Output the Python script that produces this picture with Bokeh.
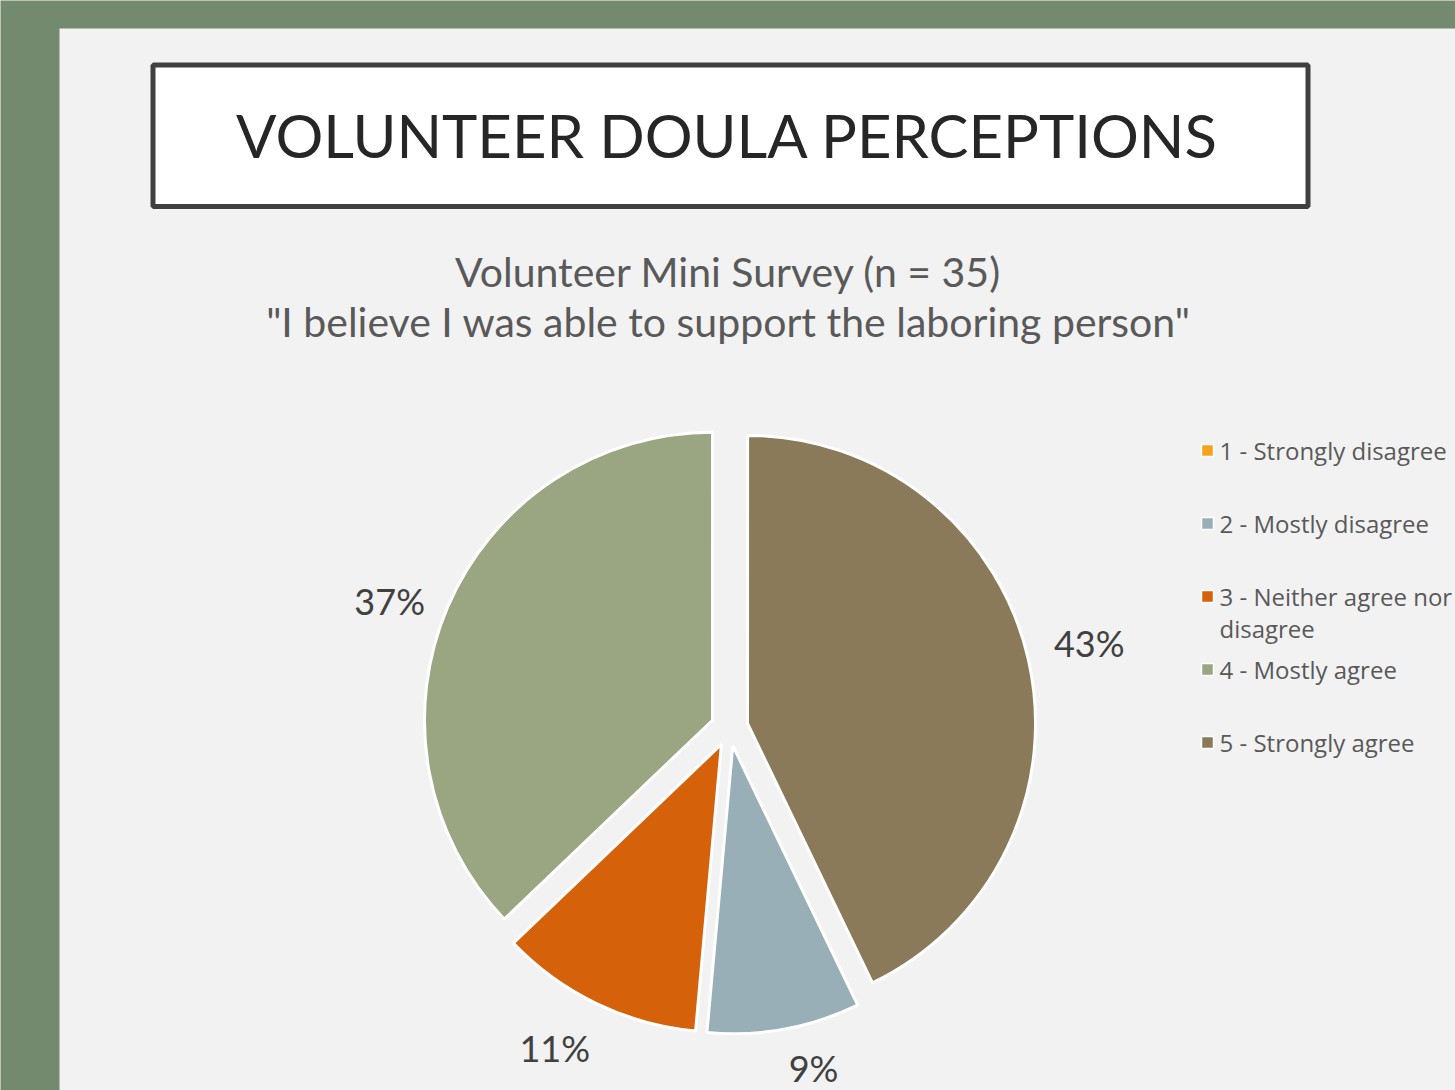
import numpy as np
from bokeh.plotting import figure
from bokeh.models import Range1d, ColumnDataSource
from bokeh.core.properties import value
from bokeh.embed import file_html
from bokeh.resources import INLINE

# ---------------- data ----------------
categories = ["1 - Strongly disagree", "2 - Mostly disagree",
              "3 - Neither agree nor disagree", "4 - Mostly agree",
              "5 - Strongly agree"]
counts = [0, 3, 4, 13, 15]
colors = ["#F9A11B", "#98AFB7", "#D5610A", "#9AA582", "#8A7A5A"]
title_text = "VOLUNTEER DOULA PERCEPTIONS"
subtitle_lines = ["Volunteer Mini Survey (n = 35)",
                  "\"I believe I was able to support the laboring person\""]

# ---------------- layout ----------------
W, H = 1455, 1090
FONT = "Lato"


def Y(y):
    return H - y


p = figure(width=W, height=H, x_range=Range1d(0, W), y_range=Range1d(0, H),
           output_backend="svg", toolbar_location=None, min_border=0)
p.axis.visible = False
p.grid.visible = False
p.outline_line_color = None
p.background_fill_color = "#738A6E"
p.border_fill_color = "#738A6E"

# slide
p.quad(left=59, right=W, bottom=0, top=Y(28), fill_color="#F2F2F2", line_color=None)

# title box
p.quad(left=152.5, right=1307.5, bottom=Y(206), top=Y(64.5),
       fill_color="white", line_color="#404040", line_width=5)
p.text(x=[727], y=[Y(134)], text=[title_text], text_font=value(FONT),
       text_font_size="59.8px", text_color="#262626", text_align="center",
       text_baseline="middle")

# subtitle
p.text(x=[728, 728], y=[Y(270.5), Y(321)], text=subtitle_lines, text_font=value(FONT),
       text_font_size="41px", text_color="#595959", text_align="center",
       text_baseline="middle")

# pie
total = sum(counts)
first_slice_deg = 154.3
cx, cy = 729, Y(727)
R = 288
explode = 18.5
# label placement (outside end), per slice: radius and angular nudge
label_r = [360, 353, 367, 362, 369]
label_nudge = [0, -3.5, 2.7, -3.0, 0]

xs, ys, starts, ends, fills = [], [], [], [], []
lx, ly, ltxt = [], [], []
cum = 0
for i, (c, col) in enumerate(zip(counts, colors)):
    t1 = first_slice_deg + 360.0 * cum / total
    t2 = t1 + 360.0 * c / total
    cum += c
    if c == 0:
        continue
    mid = np.radians((t1 + t2) / 2)
    xs.append(cx + explode * np.sin(mid))
    ys.append(cy + explode * np.cos(mid))
    starts.append(np.pi / 2 - np.radians(t2))
    ends.append(np.pi / 2 - np.radians(t1))
    fills.append(col)
    lm = mid + np.radians(label_nudge[i])
    lx.append(cx + label_r[i] * np.sin(lm))
    ly.append(cy + label_r[i] * np.cos(lm) + 2)
    ltxt.append(f"{round(100 * c / total)}%")

src = ColumnDataSource(dict(x=xs, y=ys, start=starts, end=ends, fill=fills))
p.wedge(x="x", y="y", radius=R, start_angle="start", end_angle="end",
        direction="anticlock", fill_color="fill", line_color="white",
        line_width=3, source=src)

p.text(x=lx, y=ly, text=ltxt, text_font=value(FONT), text_font_size="36px",
       text_color="#404040", text_align="center", text_baseline="middle")

# legend
leg_y0 = 450
leg_dy = 73
leg_labels = [c.replace(" nor disagree", " nor\ndisagree") for c in categories]
sq_y = [Y(leg_y0 + i * leg_dy) for i in range(len(categories))]
p.rect(x=[1207] * len(categories), y=sq_y, width=12, height=12,
       fill_color=colors, line_color="white", line_width=1.5)
p.text(x=[1219] * len(categories), y=[v + 17 for v in sq_y], text=leg_labels,
       text_font=value("Open Sans"), text_font_size="24px", text_color="#595959",
       text_align="left", text_baseline="top", text_line_height=0.97)

open("out.html", "w").write(file_html(p, INLINE))
